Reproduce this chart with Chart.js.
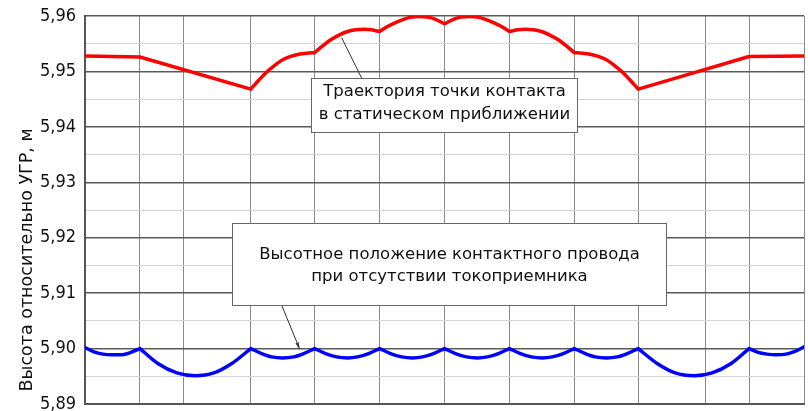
<!DOCTYPE html>
<html>
<head>
<meta charset="utf-8">
<script src="https://cdn.jsdelivr.net/npm/chart.js@4"></script>
<style>
  html, body { margin: 0; padding: 0; background: #fff; }
</style>
</head>
<body>
<canvas id="chart" width="808" height="411"></canvas>
<script>
// вертикальные линии сетки (опоры / фиксаторы), м
const gridX = [0, 55, 99, 166, 230, 295, 360, 425, 490, 554, 621, 665, 720];
// точки излома кривых (точки подвеса)
const kinkX = [55, 166, 230, 295, 360, 425, 490, 554, 665];

// подписи оси Y
const yLabels = ['5,89', '5,90', '5,91', '5,92', '5,93', '5,94', '5,95', '5,96'];

// траектория точки контакта в статическом приближении
const redX = [0, 55, 166, 174, 182, 190, 198, 206, 214, 222, 230, 238, 246, 255, 263, 271, 279, 287, 295,
  303, 311, 319, 327, 335, 343, 351, 360, 369, 377, 385, 393, 401, 409, 417, 425,
  433, 441, 449, 457, 465, 474, 482, 490, 498, 506, 514, 522, 530, 538, 546, 554, 665, 720];
const redY = [5.9528, 5.9526, 5.9468, 5.9484, 5.9499, 5.9511, 5.9521, 5.9527, 5.9531, 5.9533, 5.9534,
  5.9546, 5.9557, 5.9566, 5.9572, 5.9575, 5.9576, 5.9575, 5.9572,
  5.9581, 5.9588, 5.9594, 5.9598, 5.9599, 5.9598, 5.9594, 5.9586,
  5.9594, 5.9598, 5.9599, 5.9598, 5.9594, 5.9588, 5.9581, 5.9572,
  5.9575, 5.9576, 5.9575, 5.9572, 5.9566, 5.9557, 5.9546, 5.9534,
  5.9533, 5.9531, 5.9527, 5.9521, 5.9511, 5.9499, 5.9484, 5.9468, 5.9527, 5.9528];

// высотное положение провода без токоприемника
const blueX = [0, 9, 18, 27, 37, 46, 55, 73, 92, 110, 129, 147, 166,
  177, 187, 198, 209, 219, 230, 241, 252, 263, 273, 284, 295,
  306, 317, 328, 338, 349, 360, 371, 382, 393, 403, 414, 425,
  436, 447, 458, 468, 479, 490, 501, 511, 522, 533, 543, 554,
  573, 591, 610, 628, 647, 665, 674, 683, 692, 702, 711, 720];
const blueY = [5.9002, 5.8994, 5.8990, 5.8989, 5.8989, 5.8993, 5.9000,
  5.8973, 5.8956, 5.8951, 5.8956, 5.8973, 5.9000,
  5.8991, 5.8985, 5.8983, 5.8985, 5.8991, 5.9000,
  5.8991, 5.8985, 5.8983, 5.8985, 5.8991, 5.9000,
  5.8991, 5.8985, 5.8983, 5.8985, 5.8991, 5.9000,
  5.8991, 5.8985, 5.8983, 5.8985, 5.8991, 5.9000,
  5.8991, 5.8985, 5.8983, 5.8985, 5.8991, 5.9000,
  5.8991, 5.8985, 5.8983, 5.8985, 5.8991, 5.9000,
  5.8973, 5.8956, 5.8951, 5.8956, 5.8973, 5.9000,
  5.8993, 5.8990, 5.8989, 5.8990, 5.8995, 5.9003];

const yTitle = 'Высота относительно УГР, м';
const noteRed = ['Траектория точки контакта', 'в статическом приближении'];
const noteBlue = ['Высотное положение контактного провода', 'при отсутствии токоприемника'];

// разрыв в точках излома, чтобы сглаживание не скругляло их
function toPoints(xs, ys) {
  const pts = [];
  xs.forEach((x, i) => {
    pts.push({ x: x, y: ys[i] });
    if (kinkX.includes(x)) {
      pts.push({ x: x, y: null });
      pts.push({ x: x, y: ys[i] });
    }
  });
  return pts;
}

const textFont = '16.5px "DejaVu Sans", sans-serif';

// выноски и подпись оси
const notesPlugin = {
  id: 'notes',
  afterDatasetsDraw(chart) {
    const ctx = chart.ctx;
    const sx = chart.scales.x, sy = chart.scales.y;
    const px = v => sx.getPixelForValue(v);
    const py = v => sy.getPixelForValue(v);

    function box(x1, x2, y1, y2, lines, ly) {
      const l = Math.round(px(x1)) + 0.5, r = Math.round(px(x2)) + 0.5;
      const t = Math.round(py(y1)) + 0.5, b = Math.round(py(y2)) + 0.5;
      ctx.fillStyle = '#fff';
      ctx.fillRect(l, t, r - l, b - t);
      ctx.strokeStyle = '#666';
      ctx.lineWidth = 1;
      ctx.strokeRect(l, t, r - l, b - t);
      ctx.fillStyle = '#111';
      ctx.font = textFont;
      ctx.textAlign = 'center';
      ctx.textBaseline = 'middle';
      lines.forEach((s, i) => ctx.fillText(s, (l + r) / 2, py(ly[i])));
    }

    function leader(x1, y1, x2, y2, arrow) {
      ctx.strokeStyle = '#333';
      ctx.lineWidth = 1;
      ctx.beginPath();
      ctx.moveTo(px(x1), py(y1));
      ctx.lineTo(px(x2), py(y2));
      ctx.stroke();
      if (arrow) {
        const a = Math.atan2(py(y2) - py(y1), px(x2) - px(x1));
        ctx.fillStyle = '#333';
        ctx.beginPath();
        ctx.moveTo(px(x2), py(y2));
        ctx.lineTo(px(x2) - 7 * Math.cos(a - 0.25), py(y2) - 7 * Math.sin(a - 0.25));
        ctx.lineTo(px(x2) - 7 * Math.cos(a + 0.25), py(y2) - 7 * Math.sin(a + 0.25));
        ctx.closePath();
        ctx.fill();
      }
    }

    ctx.save();
    leader(257, 5.9561, 277, 5.9488, false);
    box(226, 493, 5.9488, 5.9391, noteRed, [5.9463, 5.9421]);
    leader(197, 5.9078, 215, 5.8999, true);
    box(147, 582, 5.9226, 5.9078, noteBlue, [5.9169, 5.9129]);

    // подпись оси Y
    ctx.translate(27, py(5.916));
    ctx.rotate(-Math.PI / 2);
    ctx.fillStyle = '#111';
    ctx.font = '17.5px "DejaVu Sans", sans-serif';
    ctx.textAlign = 'center';
    ctx.textBaseline = 'middle';
    ctx.fillText(yTitle, 0, 0);
    ctx.restore();
  }
};

const lineStyle = {
  borderWidth: 3.5,
  pointRadius: 0,
  cubicInterpolationMode: 'monotone',
  spanGaps: false,
  borderJoinStyle: 'round',
  borderCapStyle: 'round'
};

new Chart(document.getElementById('chart'), {
  type: 'line',
  data: {
    datasets: [
      Object.assign({ data: toPoints(redX, redY), borderColor: 'rgb(255, 0, 0)' }, lineStyle),
      Object.assign({ data: toPoints(blueX, blueY), borderColor: 'rgb(0, 0, 255)' }, lineStyle)
    ]
  },
  options: {
    responsive: false,
    animation: false,
    devicePixelRatio: 1,
    layout: { padding: { top: 16, right: 4, bottom: 7, left: 0 } },
    plugins: { legend: { display: false }, tooltip: { enabled: false } },
    scales: {
      x: {
        type: 'linear',
        min: 0,
        max: 720,
        afterBuildTicks: scale => { scale.ticks = gridX.map(v => ({ value: v })); },
        afterFit: scale => { scale.height = 0; scale.paddingLeft = 0; scale.paddingRight = 0; },
        ticks: { display: false },
        grid: { color: '#8a8a8a', lineWidth: 1, drawTicks: false },
        border: { display: true, color: '#555', width: 2 }
      },
      y: {
        min: 5.89,
        max: 5.96,
        afterFit: scale => { scale.width = 85; scale.paddingTop = 0; scale.paddingBottom = 0; },
        ticks: {
          stepSize: 0.005,
          padding: 9,
          color: '#111',
          font: { family: '"Liberation Sans Narrow", "DejaVu Sans Condensed", sans-serif', size: 18 },
          callback: (v, i) => (i % 2 === 0 ? yLabels[i / 2] : '')
        },
        grid: {
          drawTicks: false,
          color: c => (c.index % 2 === 0 ? '#5a5a5a' : '#d4d4d4'),
          lineWidth: c => (c.index % 2 === 0 ? 1.5 : 1)
        },
        border: { display: true, color: '#555', width: 2 }
      }
    }
  },
  plugins: [notesPlugin]
});
</script>
</body>
</html>
